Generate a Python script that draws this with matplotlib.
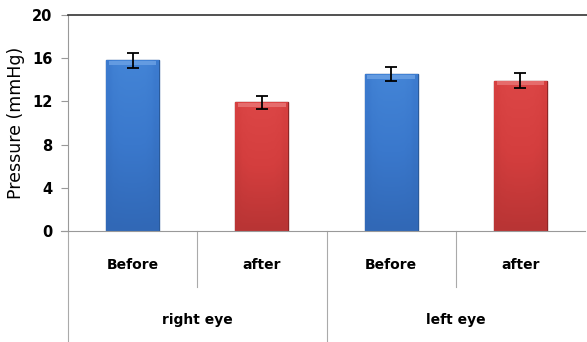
import numpy as np
import matplotlib
matplotlib.use("Agg")
import matplotlib.pyplot as plt
from matplotlib.colors import LinearSegmentedColormap
from matplotlib.lines import Line2D

# Intraocular pressure before/after, per eye
groups = ["right eye", "left eye"]
conditions = ["Before", "after"]
means = [15.8, 11.9, 14.5, 13.9]
errors = [0.7, 0.6, 0.65, 0.7]
yticks = [0, 4, 8, 12, 16, 20]

W, H = 587, 342
fig = plt.figure(figsize=(W / 100, H / 100), dpi=100)
ax = fig.add_axes([68 / W, (H - 231) / H, (585 - 68) / W, 216 / H])

n = len(means)
x = np.arange(n)
face = ["#3a78cc", "#d43e3e"] * 2
edge = ["#2a5a9a", "#8e2626"] * 2
light = ["#4384d6", "#dc4646"] * 2
dark = ["#3168b6", "#b83434"] * 2
bevel = ["#6aa0e4", "#e87474"] * 2

bars = ax.bar(x, means, width=0.41, color=face, edgecolor=edge, linewidth=1.0, zorder=2)

# shaded fill inside each bar
for b, c0, c1, c2, cb in zip(bars, light, face, dark, bevel):
    cmap = LinearSegmentedColormap.from_list("g", [c2, c1, c0])
    x0, y0 = b.get_x(), b.get_y()
    w, h = b.get_width(), b.get_height()
    grad = np.linspace(0, 1, 64).reshape(-1, 1)
    grad = np.hstack([grad] * 9)
    side = 1 - 0.35 * np.abs(np.linspace(-1, 1, 9)) ** 4
    img = ax.imshow(grad * side, cmap=cmap, vmin=0, vmax=1, origin="lower",
                    extent=[x0, x0 + w, y0, y0 + h], aspect="auto", zorder=2.1)
    img.set_clip_path(b)
    # bevel strip along the top
    ax.fill_between([x0 + w * 0.05, x0 + w * 0.95], y0 + h - 0.4, y0 + h - 0.05,
                    color=cb, lw=0, zorder=2.2, alpha=0.85)

ax.errorbar(x, means, yerr=errors, fmt="none", ecolor="black", elinewidth=1.3,
            capsize=4.5, capthick=1.3, zorder=3)

ax.set_xlim(-0.5, n - 0.5)
ax.set_ylim(0, 20)
ax.set_yticks(yticks)
ax.set_yticklabels([str(v) for v in yticks], fontsize=10.5, fontweight="bold")
ax.set_xticks([])
ax.tick_params(axis="y", length=5, width=0.8, color="#999999", pad=6)

ax.spines["right"].set_visible(False)
ax.spines["left"].set_color("#999999")
ax.spines["left"].set_linewidth(0.8)
ax.spines["bottom"].set_color("#999999")
ax.spines["bottom"].set_linewidth(0.8)
ax.spines["top"].set_color("#333333")
ax.spines["top"].set_linewidth(1.2)
ax.spines["top"].set_bounds(-0.5, n - 0.5 + 0.02)

ax.set_ylabel("Pressure (mmHg)", fontsize=12.5, labelpad=5)

# extend the baseline slightly to the left like a tick
ax.add_line(Line2D([-0.555, -0.5], [0, 0], color="#999999", lw=0.8, clip_on=False,
                   transform=ax.transData))

trans = ax.get_xaxis_transform()
# category labels
for i in range(n):
    ax.text(i, -0.157, conditions[i % 2], transform=trans, ha="center", va="center",
            fontsize=10, fontweight="bold")
for g, name in enumerate(groups):
    ax.text(2 * g + 0.5, -0.412, name, transform=trans, ha="center", va="center",
            fontsize=10, fontweight="bold")

# dividers below the axis
for i in range(n):
    xv = i - 0.5
    y_end = -0.52 if i % 2 == 0 else -0.259
    ax.add_line(Line2D([xv, xv], [0, y_end], transform=trans, color="#aaaaaa",
                       lw=0.8, clip_on=False))

fig.savefig("out.png", dpi=100)
